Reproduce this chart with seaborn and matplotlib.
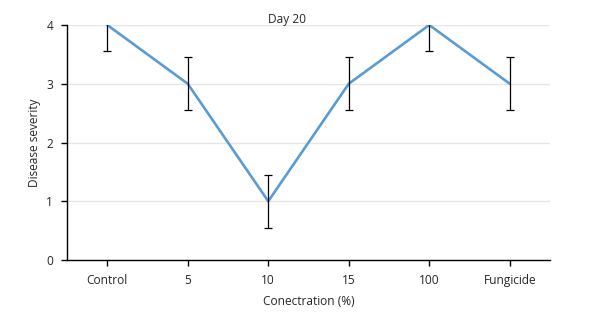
import matplotlib
matplotlib.use("Agg")
import matplotlib.pyplot as plt
import seaborn as sns
import pandas as pd

categories = ["Control", "5", "10", "15", "100", "Fungicide"]
severity = [4, 3, 1, 3, 4, 3]
errors = [0.45, 0.45, 0.45, 0.45, 0.45, 0.45]
yticks = [0, 1, 2, 3, 4]

df = pd.DataFrame({"cat": categories, "sev": severity, "err": errors})

sns.set_theme(style="white")
plt.rcParams["font.family"] = ["Open Sans", "DejaVu Sans"]

fig = plt.figure(figsize=(6.10, 3.23), dpi=100)
ax = fig.add_axes([67/610, 1 - 260/323, (550-67)/610, (260-25)/323])

sns.lineplot(data=df, x="cat", y="sev", sort=False, ax=ax, color="#5b9bd5", linewidth=1.9)
ax.errorbar(range(len(categories)), severity, yerr=errors, fmt="none", ecolor="black",
            elinewidth=0.9, capsize=3, capthick=0.9, zorder=3)

ax.set_xlim(-0.5, len(categories) - 0.5)
ax.set_ylim(0, 4)
ax.set_yticks(yticks)
ax.set_xticks(range(len(categories)))
ax.set_xticklabels(categories)
ax.grid(axis="y", color="#e6e6e6", linewidth=1)
ax.set_axisbelow(True)
for s in ["top", "right"]:
    ax.spines[s].set_visible(False)
for s in ["left", "bottom"]:
    ax.spines[s].set_color("black")
    ax.spines[s].set_linewidth(1)
ax.tick_params(axis="both", which="major", length=4, width=1, color="black", labelsize=8.6, pad=6, bottom=True, left=True)
ax.set_xlabel("Conectration (%)", fontsize=8.6, labelpad=6)
ax.set_ylabel("Disease severity", fontsize=8.6, labelpad=4)
fig.text(287/610, 1 - 20/323, "Day 20", ha="center", va="center", fontsize=8.6)

fig.savefig("out.png", dpi=100, facecolor="white")
